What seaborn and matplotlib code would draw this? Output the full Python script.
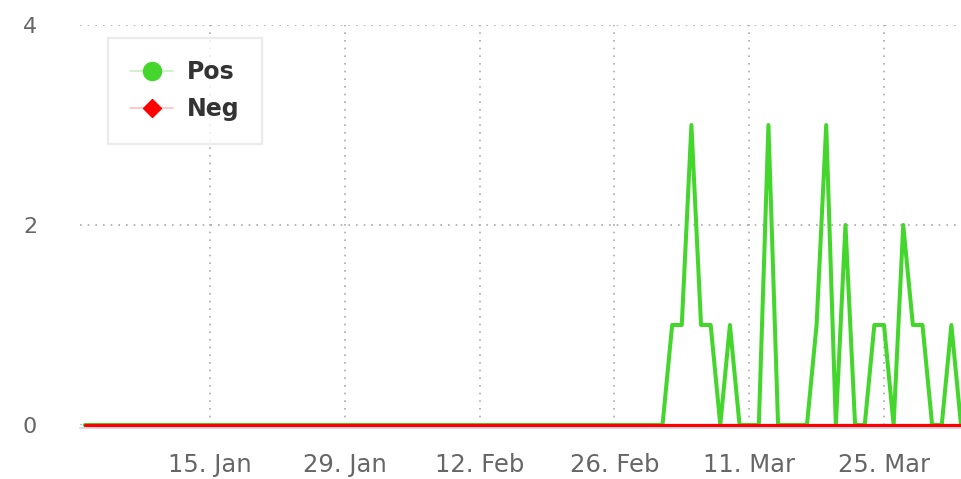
#!/usr/bin/env python3
"""Daily Pos / Neg counts, Jan - Apr 2020 (Highcharts-style line chart)."""
import matplotlib
matplotlib.use("Agg")
import matplotlib.pyplot as plt
import matplotlib.dates as mdates
from matplotlib.lines import Line2D
import pandas as pd
import seaborn as sns

# ---- data -------------------------------------------------------------
START = "2020-01-02"
END = "2020-04-02"
POS = [
    0, 0, 0, 0, 0, 0, 0, 0, 0, 0,   # 2 Jan - 11 Jan
    0, 0, 0, 0, 0, 0, 0, 0, 0, 0,   # 12 Jan - 21 Jan
    0, 0, 0, 0, 0, 0, 0, 0, 0, 0,   # 22 Jan - 31 Jan
    0, 0, 0, 0, 0, 0, 0, 0, 0, 0,   # 1 Feb - 10 Feb
    0, 0, 0, 0, 0, 0, 0, 0, 0, 0,   # 11 Feb - 20 Feb
    0, 0, 0, 0, 0, 0, 0, 0, 0, 0,   # 21 Feb - 1 Mar
    0, 1, 1, 3, 1, 1, 0, 1, 0, 0,   # 2 Mar - 11 Mar
    0, 3, 0, 0, 0, 0, 1, 3, 0, 2,   # 12 Mar - 21 Mar
    0, 0, 1, 1, 0, 2, 1, 1, 0, 0,   # 22 Mar - 31 Mar
    1, 0,                           # 1 Apr - 2 Apr
]
NEG = [
    0, 0, 0, 0, 0, 0, 0, 0, 0, 0,
    0, 0, 0, 0, 0, 0, 0, 0, 0, 0,
    0, 0, 0, 0, 0, 0, 0, 0, 0, 0,
    0, 0, 0, 0, 0, 0, 0, 0, 0, 0,
    0, 0, 0, 0, 0, 0, 0, 0, 0, 0,
    0, 0, 0, 0, 0, 0, 0, 0, 0, 0,
    0, 0, 0, 0, 0, 0, 0, 0, 0, 0,
    0, 0, 0, 0, 0, 0, 0, 0, 0, 0,
    0, 0, 0, 0, 0, 0, 0, 0, 0, 0,
    0, 0,
]
SERIES = ["Pos", "Neg"]
COLORS = {"Pos": "#44d62c", "Neg": "#ff0000"}
X_TICKS = ["2020-01-15", "2020-01-29", "2020-02-12",
           "2020-02-26", "2020-03-11", "2020-03-25"]
Y_TICKS = [0, 2, 4]

dates = pd.date_range(START, END, freq="D")
df = pd.concat([
    pd.DataFrame({"date": dates, "value": POS, "series": "Pos"}),
    pd.DataFrame({"date": dates, "value": NEG, "series": "Neg"}),
], ignore_index=True)

# ---- style ------------------------------------------------------------
sns.set_style("white")
plt.rcParams["font.family"] = ["DejaVu Sans"]

fig = plt.figure(figsize=(9.61, 4.79), dpi=100)
ax = fig.add_axes([80 / 961, 54 / 479, 881 / 961, 400 / 479])

sns.lineplot(data=df[df.series == "Pos"], x="date", y="value",
             color=COLORS["Pos"], lw=2.9, ax=ax, zorder=3, clip_on=False)
sns.lineplot(data=df[df.series == "Neg"], x="date", y="value",
             color=COLORS["Neg"], lw=2.3, ax=ax, zorder=4, clip_on=False)

ax.set_xlim(dates[0] - pd.Timedelta(hours=12), dates[-1])
ax.set_ylim(0, 4)
ax.set_xticks(pd.to_datetime(X_TICKS))
ax.xaxis.set_major_formatter(mdates.DateFormatter("%-d. %b"))
ax.set_yticks(Y_TICKS)
ax.set_xlabel("")
ax.set_ylabel("")

ax.grid(True, axis="both", color="#aaaaaa", lw=1.2, linestyle=(0, (1, 3.6)))
ax.set_axisbelow(True)

for s in ["top", "right", "left"]:
    ax.spines[s].set_visible(False)
ax.spines["bottom"].set_color("#ccd6eb")
ax.spines["bottom"].set_linewidth(1.2)
ax.spines["bottom"].set_position(("outward", 2))

ax.tick_params(axis="x", length=14, width=1.2, color="#ccd6eb", pad=4,
               labelsize=17.5, labelcolor="#666666")
ax.tick_params(axis="y", length=0, pad=36, labelsize=16, labelcolor="#666666")
for lab in ax.get_yticklabels():
    lab.set_horizontalalignment("center")

handles = [
    Line2D([], [], color="#c6f0bd", lw=1.2, marker="o", markersize=13,
           markerfacecolor=COLORS["Pos"], markeredgecolor=COLORS["Pos"]),
    Line2D([], [], color="#ffc0c0", lw=1.2, marker="D", markersize=9,
           markerfacecolor=COLORS["Neg"], markeredgecolor=COLORS["Neg"]),
]
leg = ax.legend(handles, SERIES, loc="upper left",
                bbox_to_anchor=(28 / 881, (425 - 38) / 400), borderaxespad=0,
                frameon=True, fancybox=False, handlelength=1.8,
                handletextpad=0.6, labelspacing=0.55, borderpad=0.95,
                prop={"size": 17, "weight": "bold"})
leg.get_frame().set_edgecolor("#e6e6e6")
leg.get_frame().set_linewidth(1.6)
for t in leg.get_texts():
    t.set_color("#333333")

fig.savefig("out.png", dpi=100)
